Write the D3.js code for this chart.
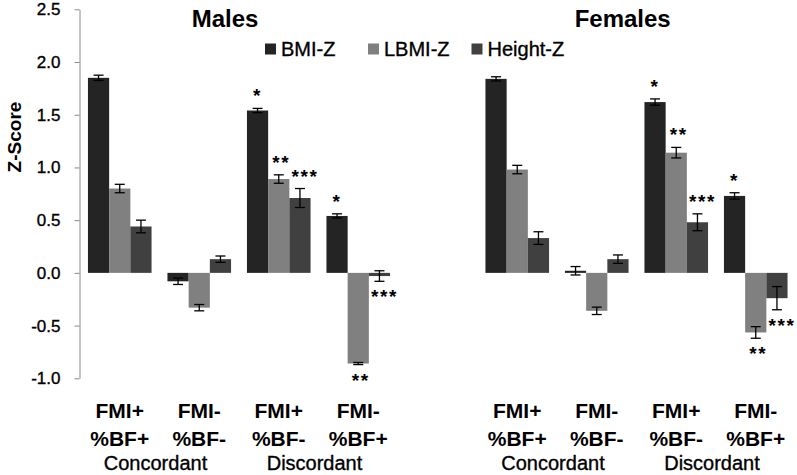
<!DOCTYPE html>
<html>
<head>
<meta charset="utf-8">
<script src="https://cdn.jsdelivr.net/npm/d3@7"></script>
<style>
  html, body { margin: 0; padding: 0; background: #fff; }
  svg { display: block; }
  text { font-family: "Liberation Sans", Arial, sans-serif; fill: #000; }
  text.thick { stroke: #000; stroke-width: 0.35px; }
</style>
</head>
<body>
<svg id="chart" width="797" height="475"></svg>
<script>
// ---------------- data ----------------
const sexes = ["Males", "Females"];
const catLine1 = ["FMI+", "FMI-", "FMI+", "FMI-"];
const catLine2 = ["%BF+", "%BF-", "%BF-", "%BF+"];
const typeLabels = ["Concordant", "Discordant"];
const seriesNames = ["BMI-Z", "LBMI-Z", "Height-Z"];
const yTicks = [-1.0, -0.5, 0.0, 0.5, 1.0, 1.5, 2.0, 2.5];

const maleBMI = [1.85, -0.08, 1.54, 0.54];
const maleLBMI = [0.80, -0.33, 0.89, -0.86];
const maleHeight = [0.44, 0.13, 0.71, -0.03];
const maleBMIErr = [0.025, 0.03, 0.02, 0.02];
const maleLBMIErr = [0.04, 0.03, 0.04, 0.01];
const maleHeightErr = [0.06, 0.03, 0.09, 0.05];

const femaleBMI = [1.84, 0.02, 1.62, 0.73];
const femaleLBMI = [0.98, -0.36, 1.14, -0.565];
const femaleHeight = [0.33, 0.13, 0.48, -0.24];
const femaleBMIErr = [0.02, 0.04, 0.03, 0.03];
const femaleLBMIErr = [0.04, 0.035, 0.05, 0.055];
const femaleHeightErr = [0.06, 0.04, 0.08, 0.11];

const sigBMI = ["", "", "*", "*"];
const sigLBMI = ["", "", "**", "**"];
const sigHeight = ["", "", "***", "***"];

// ---------------- build ----------------
const colors = ["#242424", "#808080", "#404040"];
const values = {
  Males: [maleBMI, maleLBMI, maleHeight],
  Females: [femaleBMI, femaleLBMI, femaleHeight]
};
const errors = {
  Males: [maleBMIErr, maleLBMIErr, maleHeightErr],
  Females: [femaleBMIErr, femaleLBMIErr, femaleHeightErr]
};
const sigs = [sigBMI, sigLBMI, sigHeight];

// slots: 4 male groups, a gap, 4 female groups
const slots = [];
sexes.forEach((s, si) => {
  catLine1.forEach((c, ci) => slots.push(s + "|" + ci));
  if (si === 0) slots.push("gap");
});

const svg = d3.select("#chart");
const x = d3.scaleBand().domain(slots).range([80, 795.5]).paddingInner(0.2).paddingOuter(0.1);
const xs = d3.scaleBand().domain(seriesNames).range([0, x.bandwidth()]);
const y = d3.scaleLinear().domain([-1, 2.5]).range([378.3, 9.3]);

// y axis
const yAxis = d3.axisLeft(y).tickValues(yTicks).tickFormat(d => d.toFixed(1))
  .tickSize(5).tickSizeOuter(0).tickPadding(14);
const ga = svg.append("g").attr("transform", "translate(79.5,0)").call(yAxis);
ga.select(".domain").attr("stroke", "#8a8a8a").attr("stroke-width", 1);
ga.selectAll(".tick line").attr("stroke", "#8a8a8a");
ga.selectAll(".tick text").attr("class", "thick").attr("font-size", 17).attr("fill", "#000")
  .attr("font-family", "'Liberation Sans', Arial, sans-serif");

// y label
svg.append("text")
  .attr("transform", "translate(21,137) rotate(-90)")
  .attr("text-anchor", "middle")
  .attr("font-size", 19).attr("font-weight", "bold")
  .text("Z-Score");

// bars, errors, significance
const records = [];
sexes.forEach(s => {
  catLine1.forEach((c, ci) => {
    seriesNames.forEach((n, ni) => {
      records.push({sex: s, ci, ni, v: values[s][ni][ci], e: errors[s][ni][ci], sig: sigs[ni][ci]});
    });
  });
});

const g = svg.append("g");
g.selectAll("rect.bar").data(records).join("rect")
  .attr("class", "bar")
  .attr("x", d => x(d.sex + "|" + d.ci) + xs(seriesNames[d.ni]))
  .attr("width", xs.bandwidth())
  .attr("y", d => y(Math.max(0, d.v)))
  .attr("height", d => Math.abs(y(d.v) - y(0)))
  .attr("fill", d => colors[d.ni]);

const eb = g.selectAll("g.err").data(records).join("g").attr("class", "err")
  .attr("transform", d => `translate(${x(d.sex + "|" + d.ci) + xs(seriesNames[d.ni]) + xs.bandwidth() / 2},0)`);
eb.append("line").attr("x1", 0).attr("x2", 0)
  .attr("y1", d => y(d.v + d.e)).attr("y2", d => y(d.v - d.e))
  .attr("stroke", "#000").attr("stroke-width", 1.3);
eb.append("line").attr("x1", -5).attr("x2", 5)
  .attr("y1", d => y(d.v + d.e)).attr("y2", d => y(d.v + d.e))
  .attr("stroke", "#000").attr("stroke-width", 1.3);
eb.append("line").attr("x1", -5).attr("x2", 5)
  .attr("y1", d => y(d.v - d.e)).attr("y2", d => y(d.v - d.e))
  .attr("stroke", "#000").attr("stroke-width", 1.3);

g.selectAll("text.sig").data(records.filter(d => d.sig)).join("text")
  .attr("class", "sig")
  .attr("x", d => x(d.sex + "|" + d.ci) + xs(seriesNames[d.ni]) + xs.bandwidth() / 2 + (d.sig.length - 1) * 2.5)
  .attr("y", d => d.v >= 0 ? y(d.v + d.e) - 16 + 10 : y(d.v - d.e) + 12 + 10)
  .attr("text-anchor", "middle")
  .attr("font-size", 19).attr("font-weight", "bold")
  .attr("letter-spacing", 1.5)
  .text(d => d.sig);

// titles
const titleX = {Males: 225, Females: 622.7};
sexes.forEach(s => {
  svg.append("text").attr("x", titleX[s]).attr("y", 27)
    .attr("text-anchor", "middle").attr("font-size", 24).attr("font-weight", "bold")
    .text(s);
});

// legend
const legX = [265, 368, 471.5];
seriesNames.forEach((n, i) => {
  svg.append("rect").attr("x", legX[i]).attr("y", 43.5).attr("width", 11).attr("height", 11)
    .attr("fill", colors[i]);
  svg.append("text").attr("class", "thick").attr("x", legX[i] + 16).attr("y", 56)
    .attr("font-size", 20).text(n);
});

// x labels
sexes.forEach(s => {
  catLine1.forEach((c, ci) => {
    const cx = x(s + "|" + ci) + x.bandwidth() / 2;
    svg.append("text").attr("x", cx).attr("y", 418).attr("text-anchor", "middle")
      .attr("font-size", 21).attr("font-weight", "bold").text(c);
    svg.append("text").attr("x", cx).attr("y", 446).attr("text-anchor", "middle")
      .attr("font-size", 21).attr("font-weight", "bold").text(catLine2[ci]);
  });
  typeLabels.forEach((t, ti) => {
    const c1 = x(s + "|" + (ti * 2)) + x.bandwidth() / 2;
    const c2 = x(s + "|" + (ti * 2 + 1)) + x.bandwidth() / 2;
    svg.append("text").attr("class", "thick").attr("x", (c1 + c2) / 2 - 4).attr("y", 470).attr("text-anchor", "middle")
      .attr("font-size", 20).text(t);
  });
});
</script>
</body>
</html>
